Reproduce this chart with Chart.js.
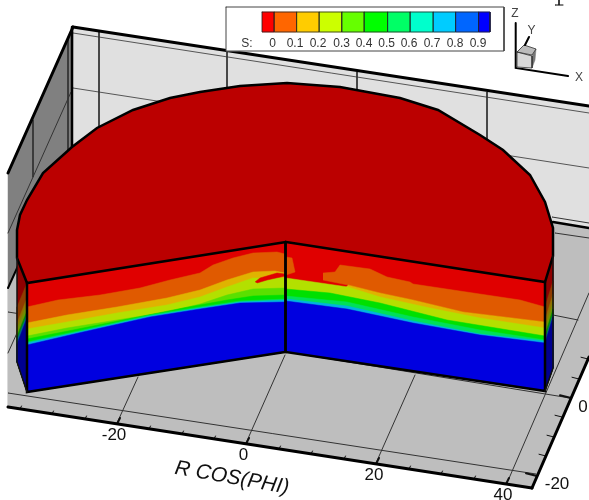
<!DOCTYPE html>
<html><head><meta charset="utf-8">
<style>html,body{margin:0;padding:0;background:#fff}canvas{display:block}</style>
<script src="https://cdn.jsdelivr.net/npm/chart.js@4"></script></head>
<body><canvas id="c" width="589" height="500"></canvas>
<script>
const sideWall=[[73,27],[72,147],[8,288],[8,173]];
const backWall=[[73,27],[589,106],[589,228],[72,147]];
const floor=[[72,147],[8,288],[8,407],[532,488],[589,357],[589,228]];
const thinLines=[
 [[73,33],[589,113]],[[73,88],[589,168]],[[99,32],[99,152]],[[227,52],[227,170]],[[357,72],[357,190]],[[487,92],[487,210]],
 [[68,37],[68,150]],[[33,120],[33,177]],[[71,92],[8,233]],
 [[552,217],[589,223]],[[555,233],[589,238]],[[553,315],[578,320]],
 [[8,312],[40,317]],[[287,352],[570,398]],
 [[8,393],[536,474]],
 [[117,423],[138,377]],[[246,443],[285,355]],[[376,463],[415,375]],[[507,483],[589,293]],[[17,333],[8,353]]
];
const thickLines=[
 [[73,27],[589,106],3],[[73,27],[8,173],3],[[72,27],[72,147],2.5],[[72,147],[8,288],2],[[553,222],[589,228],2.5],
 [[8,407],[532,488],3],[[532,488],[589,357],3]
];
const frontTicks=[[20,409],[52,414],[85,419],[117,424],[149,429],[182,434],[214,439],[246,444],[279,449],[311,454],[344,459],[376,464],[409,469],[441,474],[474,479],[506,484]];
const rightTicks=[[546,456],[554,437],[562,417],[571,398],[579,379],[588,359],[537,476]];
const discTop=[[286,242],[27,283],[17,258],[17,230],[20,215],[27,200],[43,173],[72,147],[97,128],[133,110],[170,98],[200,92],[240,86],[287,83],[340,87],[400,98],[438,110],[480,135],[503,150],[530,175],[545,202],[553,228],[553,256],[545,282]];
const leftWall=[[27,283],[285,242],[285,352],[27,392]];
const rightWall=[[286,242],[545,282],[545,391],[286,351]];
const bandColors=['#E05A00','#E0B300','#B3E000','#5AE000','#00E000','#00E05A','#00B3E0','#0000E0'];
const leftBottom=[[285,352],[27,392]];
const leftBands=[
 [[27,307],[58,300],[100,295],[140,288],[170,280],[200,273],[213,265],[233,258],[253,253],[277,252],[285,254],[292,262],[295,271],[285,278]],
 [[27,323],[67,315],[117,307],[167,298],[200,290],[227,280],[253,272],[275,271],[285,273]],
 [[27,329],[67,322],[117,313],[167,305],[200,297],[227,287],[253,278],[285,278]],
 [[27,336],[67,328],[117,320],[167,312],[200,304],[227,295],[253,289],[285,288]],
 [[27,339],[73,330],[133,318],[183,308],[227,300],[253,296],[285,295]],
 [[27,342],[83,330],[150,315],[200,307],[240,301],[285,299]],
 [[27,343],[83,331],[150,316],[200,308],[240,302],[285,300]],
 [[27,345],[83,332],[150,317],[200,309],[240,303],[285,302]]
];
const leftStreak=[[255,282],[260,278],[277,273],[285,274],[285,276],[267,280],[257,283]];
const rightBottom=[[545,391],[286,351]];
const rightBlobs=[[[286,257],[292,258],[295,272],[286,275]],
 [[323,273],[335,272],[340,265],[370,269],[387,277],[410,282],[413,284],[453,290],[520,300],[545,307],[545,322],[463,312],[413,300],[380,293],[348,285],[323,280]]];
const rightBands=[
 [[348,285],[380,293],[413,300],[463,312],[545,322]],
 [[286,278],[348,287],[380,297],[430,308],[480,318],[545,328]],
 [[286,289],[330,293],[380,303],[447,320],[545,336]],
 [[286,296],[347,302],[413,317],[480,330],[545,340]],
 [[286,299],[347,306],[413,321],[480,334],[545,341]],
 [[286,301],[347,309],[413,323],[480,335],[545,343]],
 [[286,303],[347,310],[413,324],[480,336],[545,344]]
];
const rightBandColors=['#E0B300','#B3E000','#00E000','#00E05A','#00B3E0','#0000E0','#0000E0'];
const faceColors=['#900000','#903C00','#907000','#709000','#009000','#006090','#000090'];
const leftFaceLevels=[[283,307],[298,323],[304,329],[311,336],[315,340],[318,344]];
const rightFaceLevels=[[307,282],[320,296],[328,304],[335,311],[340,316],[343,320]];
const legendBox=[[226,7],[504,7],[504,51],[226,51]];
const legendEdges=[262,274.3,296.7,319.3,342,364.3,387.7,410.3,433.3,455.7,478.7,490];
const legendColors=['#FF0000','#FF6600','#FFCC00','#CCFF00','#66FF00','#00FF00','#00FF66','#00FFCC','#00CCFF','#0066FF','#0000FF'];
const legendLabels=['S:','0','0.1','0.2','0.3','0.4','0.5','0.6','0.7','0.8','0.9'];
const legendLabelX=[247,272.7,295,318,341.7,364,386.7,409,432,455,478];
const cubeTop=[[517,52],[524,45],[536,49],[532,55]];
const cubeFront=[[517,52],[532,56],[532,68],[517,67]];
const cubeSide=[[532,56],[536,49],[535,60],[532,68]];
const tickLabels=[['-20',114,435],['0',243.5,455],['20',374,475],['40',503,495],['0',583,407],['-20',557,484]];
const axisTitle=['R COS(PHI)',232,478,10];
const triadLabels=[['Z',515,14],['Y',531.5,31],['X',579,78]];

const ds=[];
const pts=a=>a.map(p=>({x:p[0],y:p[1]}));
function fillPoly(a,color){ds.push({data:pts(a),showLine:true,fill:'shape',backgroundColor:color,borderColor:color,borderWidth:0.5,pointRadius:0,tension:0});}
function line(a,color,w){ds.push({data:pts(a),showLine:true,fill:false,borderColor:color,borderWidth:w,pointRadius:0,tension:0,borderCapStyle:'round'});}
function closed(a){return a.concat([a[0]]);}

fillPoly(backWall,'#E0E0E0');
fillPoly(sideWall,'#808080');
fillPoly(floor,'#BEBEBE');
thinLines.forEach((l,i)=>line(l,i<2?'#555':'#333',1));
frontTicks.forEach((t,i)=>{const major=(i%4)===3;line([t,[t[0]+(major?3:1.5),t[1]-(major?6:3)]],'#111',major?2:1);});
rightTicks.forEach((t,i)=>{const major=(i===3||i===6);const d=major?11:7;line([t,[t[0]-d,t[1]-d*0.25]],'#111',major?2:1);});
thickLines.forEach(l=>line([l[0],l[1]],'#000',l[2]));

// side faces
function face(xa,xb,levels,bottom,top){
  fillPoly(top,faceColors[0]);
  levels.forEach((lv,i)=>{fillPoly([[xa,lv[0]],[xb,lv[1]],bottom[0],bottom[1]],faceColors[i+1]||faceColors[6]);});
}
face(27,17,leftFaceLevels,[[17,362],[27,392]],[[17,258],[27,283],[27,392],[17,362]]);
face(545,553,rightFaceLevels.map(v=>[v[0],v[0]-26]),[[553,368],[545,391]],[[545,282],[553,256],[553,368],[545,391]]);

fillPoly(discTop,'#BB0000');
fillPoly(leftWall,'#E00000');
leftBands.forEach((b,i)=>fillPoly(b.concat(leftBottom),bandColors[i]));
fillPoly(leftStreak,'#E00000');
fillPoly(rightWall,'#E00000');
rightBlobs.forEach(b=>fillPoly(b,'#E05A00'));
rightBands.forEach((b,i)=>fillPoly(b.concat(rightBottom),rightBandColors[i]));

line(closed(discTop),'#000',2.5);
line([[27,283],[27,392],[285,352],[285.5,242]],'#000',2.5);
line([[285.5,242],[285.5,352],[545,391],[545,282]],'#000',2.5);
line([[17,258],[17,362],[27,392]],'#111',1.5);
line([[553,256],[553,368],[545,391]],'#111',1.5);

// legend
fillPoly(legendBox,'#FFFFFF');
line(closed(legendBox),'#444',1);
legendColors.forEach((c,i)=>{const a=legendEdges[i],b=legendEdges[i+1];fillPoly([[a,12],[b,12],[b,32],[a,32]],c);line(closed([[a,12],[b,12],[b,32],[a,32]]),'#222',0.8);});
// triad
line([[515.7,23],[515.7,68],[568,76]],'#000',2);
fillPoly(cubeTop,'#BBBBBB');fillPoly(cubeFront,'#D8D8D8');fillPoly(cubeSide,'#777777');
line(closed(cubeFront),'#333',0.8);line(closed(cubeTop),'#333',0.8);
line([[525,45],[529,37]],'#000',2);
line([[559,0],[559,4.5]],'#000',1.5);line([[555,5],[563,5]],'#000',1);

const textPlugin={id:'labels',afterDatasetsDraw(chart){
  const c=chart.ctx,X=chart.scales.x,Y=chart.scales.y;
  const put=(s,x,y,font,col,rot)=>{c.save();c.translate(X.getPixelForValue(x),Y.getPixelForValue(y));if(rot)c.rotate(rot*Math.PI/180);c.font=font;c.fillStyle=col;c.textAlign='center';c.textBaseline='middle';c.fillText(s,0,0);c.restore();};
  legendLabels.forEach((s,i)=>put(s,legendLabelX[i],44,'12px "Liberation Sans"','#333'));
  tickLabels.forEach(t=>put(t[0],t[1],t[2],'17px "Liberation Sans"','#111'));
  put(axisTitle[0],axisTitle[1],axisTitle[2],'italic 21px "Liberation Sans"','#111',axisTitle[3]);
  triadLabels.forEach(t=>put(t[0],t[1],t[2],'12px "Liberation Sans"','#444'));
}};
ds.forEach((d,i)=>d.order=ds.length-i);
new Chart(document.getElementById('c'),{type:'scatter',data:{datasets:ds},plugins:[textPlugin],options:{
 responsive:false,animation:false,layout:{padding:0},
 plugins:{legend:{display:false},tooltip:{enabled:false},filler:{propagate:false}},
 scales:{x:{type:'linear',min:0,max:589,display:false},y:{type:'linear',min:0,max:500,reverse:true,display:false}}
}});
</script></body></html>
